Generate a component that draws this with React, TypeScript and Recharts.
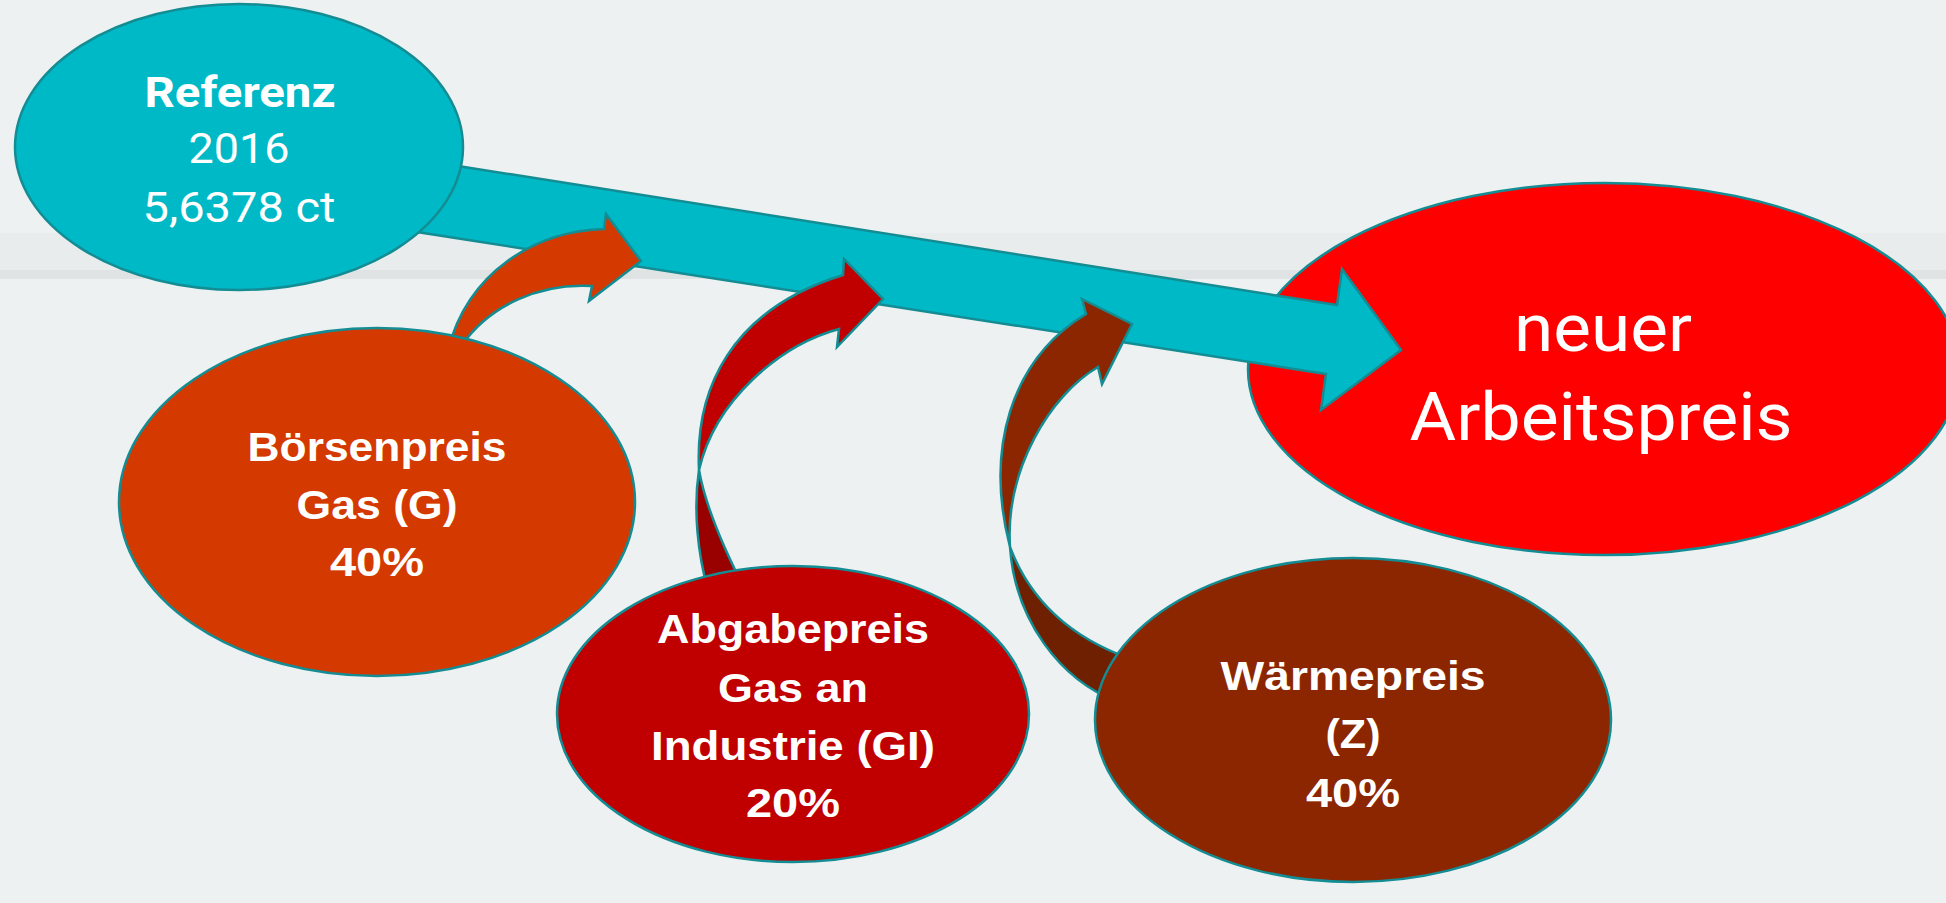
import React from 'react';
import { ScatterChart, Scatter, XAxis, YAxis } from 'recharts';

// ---------- chart frame ----------
const CHART_W = 1946;
const CHART_H = 903;
const X_DOMAIN: [number, number] = [0, 1946];
const Y_DOMAIN: [number, number] = [0, 903];
const KX = CHART_W / (X_DOMAIN[1] - X_DOMAIN[0]);
const KY = CHART_H / (Y_DOMAIN[1] - Y_DOMAIN[0]);

// ---------- data: node labels ----------
const referenceLines = ['Referenz', '2016', '5,6378 ct'];
const gasLines = ['Börsenpreis', 'Gas (G)', '40%'];
const industryLines = ['Abgabepreis', 'Gas an', 'Industrie (GI)', '20%'];
const heatLines = ['Wärmepreis', '(Z)', '40%'];
const resultLines = ['neuer', 'Arbeitspreis'];

// ---------- data: node centres (diagram units) ----------
const nodeX = [239, 377, 793, 1353, 1604];
const nodeY = [147, 502, 714, 720, 369];

// ---------- data: arrow outlines (diagram units) ----------
type Seg = (string | number)[];
const mainArrow: Seg[] = [
  ['M', 250, 133], ['L', 1337, 305], ['L', 1342, 269], ['L', 1401, 350],
  ['L', 1321, 410], ['L', 1326, 374], ['L', 250, 206], ['Z'],
];
const gasArrow: Seg[] = [
  ['M', 448, 350], ['C', 468, 272, 535, 231, 604, 229], ['L', 606, 214], ['L', 641, 261],
  ['L', 589, 301], ['L', 592, 286], ['C', 540, 283, 490, 305, 462, 345], ['Z'],
];
const industryArrow: Seg[] = [
  ['M', 699, 470], ['C', 695, 390, 730, 310, 843, 275], ['L', 844, 259], ['L', 883, 299],
  ['L', 837, 347], ['L', 839, 329], ['C', 780, 345, 715, 400, 699, 470], ['Z'],
];
const industryArrowBack: Seg[] = [
  ['M', 699, 470], ['C', 693, 510, 698, 555, 708, 590], ['L', 745, 590],
  ['C', 722, 545, 705, 505, 699, 470], ['Z'],
];
const heatArrow: Seg[] = [
  ['M', 1010, 547], ['C', 985, 450, 1010, 360, 1086, 314], ['L', 1082, 299], ['L', 1132, 324],
  ['L', 1102, 384], ['L', 1098, 367], ['C', 1050, 395, 1005, 470, 1010, 547], ['Z'],
];
const heatArrowBack: Seg[] = [
  ['M', 1010, 547], ['C', 1015, 620, 1060, 680, 1118, 702], ['L', 1140, 662],
  ['C', 1070, 640, 1030, 600, 1010, 547], ['Z'],
];

// ---------- styles / layout ----------
const OUTLINE = '#138C93';
const BG = '#EDF1F1';

type LineStyle = { dy: number; dx?: number; size: number; bold: boolean; width: number; family: string };
type NodeStyle = { rx: number; ry: number; fill: string; lines: string[]; lineStyles: LineStyle[] };

const BOLD = '"Liberation Sans", Arial, sans-serif';
const REG = 'Roboto, "Liberation Sans", sans-serif';

const nodeStyles: NodeStyle[] = [
  {
    rx: 224, ry: 143, fill: '#00B9C6', lines: referenceLines,
    lineStyles: [
      { dy: -40, dx: 1, size: 43, bold: true, width: 191, family: REG },
      { dy: 16, size: 42, bold: false, width: 101, family: REG },
      { dy: 75, size: 42, bold: false, width: 193, family: REG },
    ],
  },
  {
    rx: 258, ry: 174, fill: '#D43A00', lines: gasLines,
    lineStyles: [
      { dy: -41, size: 41, bold: true, width: 259, family: BOLD },
      { dy: 17, size: 41, bold: true, width: 161, family: BOLD },
      { dy: 74, size: 41, bold: true, width: 94, family: BOLD },
    ],
  },
  {
    rx: 236, ry: 148, fill: '#C00000', lines: industryLines,
    lineStyles: [
      { dy: -71, size: 41, bold: true, width: 272, family: BOLD },
      { dy: -12, size: 41, bold: true, width: 150, family: BOLD },
      { dy: 46, size: 41, bold: true, width: 284, family: BOLD },
      { dy: 103, size: 41, bold: true, width: 94, family: BOLD },
    ],
  },
  {
    rx: 258, ry: 162, fill: '#8C2600', lines: heatLines,
    lineStyles: [
      { dy: -30, size: 41, bold: true, width: 265, family: BOLD },
      { dy: 28, size: 41, bold: true, width: 55, family: BOLD },
      { dy: 87, size: 41, bold: true, width: 94, family: BOLD },
    ],
  },
  {
    rx: 356, ry: 186, fill: '#FF0000', lines: resultLines,
    lineStyles: [
      { dy: -18, dx: -1, size: 66, bold: false, width: 178, family: REG },
      { dy: 71, dx: -3, size: 66, bold: false, width: 383, family: REG },
    ],
  },
];

const pathToD = (segs: Seg[], cx: number, cy: number, ax: number, ay: number) =>
  segs
    .map((s) => {
      const cmd = s[0] as string;
      const nums = s.slice(1) as number[];
      const out: string[] = [];
      for (let i = 0; i < nums.length; i += 2) {
        const px = cx + (nums[i] - ax) * KX;
        const py = cy + (nums[i + 1] - ay) * KY;
        out.push(`${px.toFixed(1)},${py.toFixed(1)}`);
      }
      return cmd + ' ' + out.join(' ');
    })
    .join(' ');

const makeArrowShape = (segs: Seg[], fill: string) => (props: any) => {
  const { cx, cy } = props;
  if (cx == null || cy == null) return null;
  const ax = segs[0][1] as number;
  const ay = segs[0][2] as number;
  return (
    <path
      d={pathToD(segs, cx, cy, ax, ay)}
      fill={fill}
      stroke={OUTLINE}
      strokeWidth={2.5}
      strokeLinejoin="miter"
    />
  );
};

const makeNodeShape = (style: NodeStyle) => (props: any) => {
  const { cx, cy } = props;
  if (cx == null || cy == null) return null;
  return (
    <g>
      <ellipse cx={cx} cy={cy} rx={style.rx * KX} ry={style.ry * KY} fill={style.fill} stroke={OUTLINE} strokeWidth={2.5} />
      {style.lines.map((t, i) => {
        const ls = style.lineStyles[i];
        return (
          <text
            key={i}
            x={cx + (ls.dx || 0) * KX}
            y={cy + ls.dy * KY}
            textAnchor="middle"
            fill="#FFFFFF"
            fontFamily={ls.family}
            fontWeight={ls.bold ? 700 : 400}
            fontSize={ls.size}
            textLength={ls.width}
            lengthAdjust="spacingAndGlyphs"
          >
            {t}
          </text>
        );
      })}
    </g>
  );
};

const anchorOf = (segs: Seg[]) => [{ x: segs[0][1] as number, y: segs[0][2] as number }];
const nodePoint = (i: number) => [{ x: nodeX[i], y: nodeY[i] }];

export default function App() {
  return (
    <div
      style={{
        position: 'fixed',
        left: 0,
        top: 0,
        width: CHART_W,
        height: CHART_H,
        background: `linear-gradient(to bottom, ${BG} 0px, ${BG} 233px, #E8ECEC 233px, #E8ECEC 270px, #DFE3E3 270px, #DFE3E3 279px, ${BG} 279px, ${BG} 100%)`,
        overflow: 'hidden',
      }}
    >
      <ScatterChart width={CHART_W} height={CHART_H} margin={{ top: 0, right: 0, bottom: 0, left: 0 }}>
        <XAxis type="number" dataKey="x" domain={X_DOMAIN} allowDataOverflow hide height={0} />
        <YAxis type="number" dataKey="y" domain={Y_DOMAIN} allowDataOverflow reversed hide width={0} />
        <Scatter data={nodePoint(4)} shape={makeNodeShape(nodeStyles[4])} isAnimationActive={false} />
        <Scatter data={anchorOf(mainArrow)} shape={makeArrowShape(mainArrow, '#00B9C6')} isAnimationActive={false} />
        <Scatter data={nodePoint(0)} shape={makeNodeShape(nodeStyles[0])} isAnimationActive={false} />
        <Scatter data={anchorOf(gasArrow)} shape={makeArrowShape(gasArrow, '#D43A00')} isAnimationActive={false} />
        <Scatter data={anchorOf(industryArrowBack)} shape={makeArrowShape(industryArrowBack, '#990000')} isAnimationActive={false} />
        <Scatter data={anchorOf(industryArrow)} shape={makeArrowShape(industryArrow, '#C00000')} isAnimationActive={false} />
        <Scatter data={anchorOf(heatArrowBack)} shape={makeArrowShape(heatArrowBack, '#6F2000')} isAnimationActive={false} />
        <Scatter data={anchorOf(heatArrow)} shape={makeArrowShape(heatArrow, '#8C2600')} isAnimationActive={false} />
        <Scatter data={nodePoint(1)} shape={makeNodeShape(nodeStyles[1])} isAnimationActive={false} />
        <Scatter data={nodePoint(2)} shape={makeNodeShape(nodeStyles[2])} isAnimationActive={false} />
        <Scatter data={nodePoint(3)} shape={makeNodeShape(nodeStyles[3])} isAnimationActive={false} />
      </ScatterChart>
    </div>
  );
}
